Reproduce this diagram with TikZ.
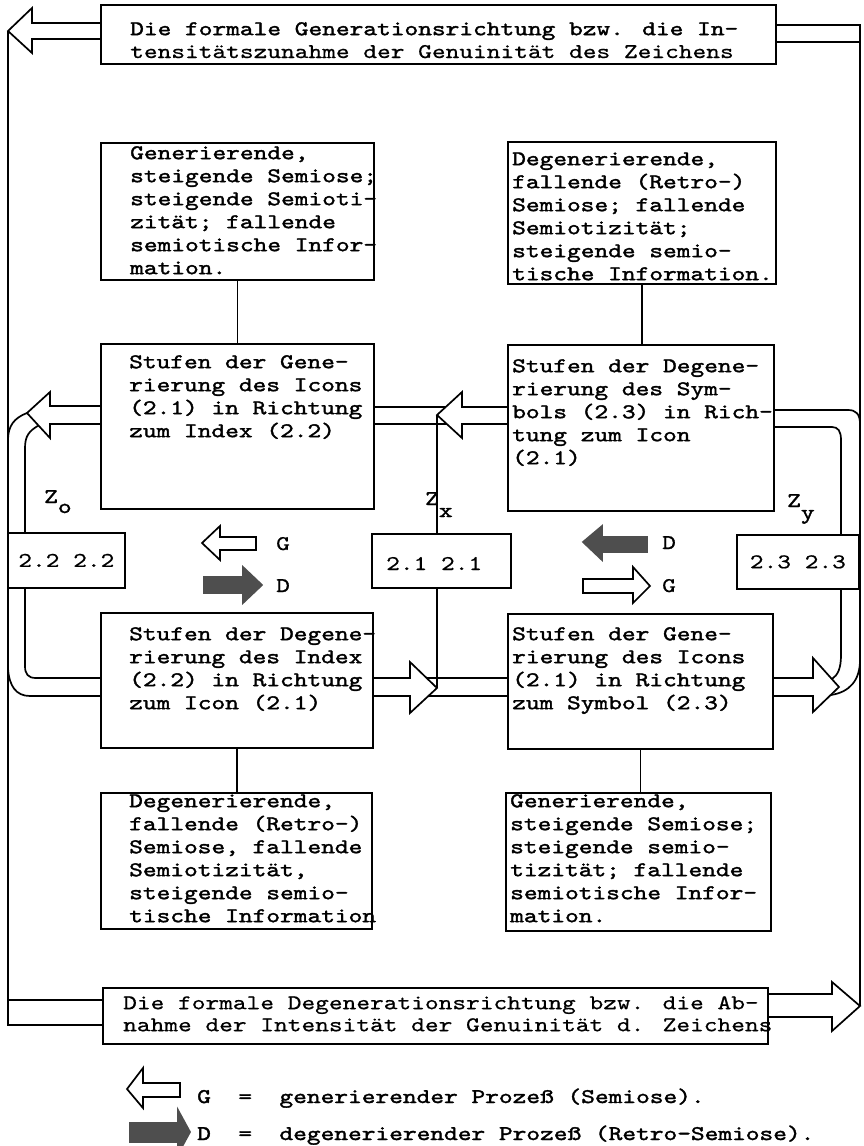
\documentclass[tikz,border=0pt]{standalone}
\usepackage{fontspec}
\newfontfamily\tw{lmmono10-regular.otf}[FakeStretch=1.25,FakeBold=1.7]
\newfontfamily\twl{lmmono10-regular.otf}[FakeStretch=1.25,FakeBold=0.6]
\newcommand\fl{\rule{0pt}{18pt}}
\definecolor{dk}{HTML}{4E4E4E}
\tikzset{
  bx/.style={draw, line width=1.7pt, inner sep=0pt, anchor=north west},
  ln/.style={line width=1.7pt, line join=miter},
  tl/.style={font=\tw\fontsize{20.9}{23}\selectfont, align=left, inner sep=0pt, anchor=north west},
  tll/.style={tl, font=\twl\fontsize{20.9}{22}\selectfont},
  lb/.style={font=\tw\fontsize{20.9}{23}\selectfont, inner sep=0pt, anchor=base west},
  lbl/.style={lb, font=\twl\fontsize{20.9}{23}\selectfont},
  sm/.style={bx, font=\twl\fontsize{20.9}{23}\selectfont},
}
\begin{document}
\begin{tikzpicture}[x=1pt,y=-1pt]
\useasboundingbox (0,0) rectangle (864,1146);

% top and bottom boxes
\node[bx, minimum width=675, minimum height=59] (T) at (100,4) {};
\node[tl] (Tt) at (130,17) {\fl Die formale Generationsrichtung bzw. die In-};
\node[lbl] (Tt2) at (130,58) {tensitätszunahme der Genuinität des Zeichens};
\node[bx, minimum width=665, minimum height=56] (Bt) at (102,987) {};
\node[tll] (Btt) at (123,991) {\fl Die formale Degenerationsrichtung bzw. die Ab-\\nahme der Intensität der Genuinität d. Zeichens};

% text boxes
\node[bx, minimum width=273, minimum height=137] (A) at (100,142) {};
\node[tl] (At) at (130,141) {\fl Generierende,\\steigende Semiose;\\steigende Semioti-\\zität; fallende\\semiotische Infor-\\mation.};
\node[bx, minimum width=268, minimum height=142] (B) at (507,141) {};
\node[tl] (Btx) at (512,147) {\fl Degenerierende,\\fallende (Retro-)\\Semiose; fallende\\Semiotizität;\\steigende semio-\\tische Information.};

\node[bx, minimum width=273, minimum height=165] (C) at (100,343) {};
\node[tl] (Ct) at (129,350) {\fl Stufen der Gene-\\rierung des Icons\\(2.1) in Richtung\\zum Index (2.2)};
\node[bx, minimum width=266, minimum height=166] (D) at (507,344) {};
\node[tl] (Dt) at (512,354) {\fl Stufen der Degene-\\rierung des Sym-\\bols (2.3) in Rich-\\tung zum Icon\\(2.1)};

\node[bx, minimum width=272, minimum height=135] (E) at (100,612) {};
\node[tl] (Et) at (129,622) {\fl Stufen der Degene-\\rierung des Index\\(2.2) in Richtung\\zum Icon (2.1)};
\node[bx, minimum width=265, minimum height=135] (F) at (507,613) {};
\node[tl] (Ft) at (512,622) {\fl Stufen der Gene-\\rierung des Icons\\(2.1) in Richtung\\zum Symbol (2.3)};

\node[bx, minimum width=271, minimum height=136] (G) at (100,792) {};
\node[tl] (Gt) at (129,789) {\fl Degenerierende,\\fallende (Retro-)\\Semiose, fallende\\Semiotizität,\\steigende semio-\\tische Information};
\node[bx, minimum width=265, minimum height=138] (H) at (505,792) {};
\node[tl] (Ht) at (510,789) {\fl Generierende,\\steigende Semiose;\\steigende semio-\\tizität; fallende\\semiotische Infor-\\mation.};

% small boxes
\node[sm, minimum width=117, minimum height=55] (S1) at (7,532) {2.2 2.2};
\node[bx, minimum width=139, minimum height=54] (S2) at (371,533) {};
\node[lbl] (S2t) at (386,570) {2.1 2.1};
\node[sm, minimum width=122, minimum height=54] (S3) at (736,534) {2.3 2.3};

% vertical connectors between boxes
\draw[ln] (A.south) -- (C.north);
\draw[ln] (B.south) -- (B.south |- D.north);
\draw[ln] (E.south) -- (E.south |- G.north);
\draw[ln] (F.south) -- (F.south |- H.north);

% outer frame: top arrow to the left, bottom arrow to the right
\draw[ln] (T.west |- 0,23) -- (32,23) -- (32,8) -- (8,31) -- (32,53) -- (32,39) -- (T.west |- 0,39);
\draw[ln] (8,31) -- (8,1025) -- (Bt.west |- 0,1025);
\draw[ln] (8,1000) -- (Bt.west |- 0,1000);
\draw[ln] (T.east |- 0,25) -- (860,25) -- (860,1006);
\draw[ln] (T.east |- 0,42) -- (860,42);
\draw[ln] (Bt.east |- 0,994) -- (832,994) -- (832,982) -- (860,1006) -- (832,1031) -- (832,1017) -- (Bt.east |- 0,1017);

% upper band D -> C
\draw[ln] (D.west |- 0,407) -- (462,407) -- (462,392) -- (437,415) -- (462,438) -- (462,424) -- (D.west |- 0,424);
\draw[ln] (C.east |- 0,407) -- (446,407);
\draw[ln] (C.east |- 0,424) -- (447,424);
% C -> left, then down
\draw[ln] (C.west |- 0,406) -- (50,406) -- (50,392) -- (27,413) -- (50,438) -- (50,424) -- (C.west |- 0,424);
\draw[ln] (27,413) .. controls (14,418) and (8,426) .. (8,440);
\draw[ln] (38.5,425.5) .. controls (29,431) and (25,436) .. (25,448) -- (S1.north -| 25,0);
\draw[ln] (S1.south -| 25,0) -- (25,666) .. controls (25,674) and (28,678) .. (36,678) -- (E.west |- 0,678);
\draw[ln] (8,668) .. controls (9,686) and (16,696) .. (30,696) -- (E.west |- 0,696);
% E -> F
\draw[ln] (E.east |- 0,678) -- (410,678) -- (410,662) -- (437,688) -- (410,713) -- (410,696) -- (E.east |- 0,696);
\draw[ln] (427,678) -- (F.west |- 0,678);
\draw[ln] (428,696) -- (F.west |- 0,696);
% Zx line
\draw[ln] (437,415) -- (S2.north -| 437,0);
\draw[ln] (S2.south -| 437,0) -- (437,688);
% F -> right, then up
\draw[ln] (F.east |- 0,678) -- (813,678) -- (813,658) -- (839,687) -- (813,712) -- (813,696) -- (F.east |- 0,696);
\draw[ln] (S3.south -| 841,0) -- (841,655) .. controls (841,668) and (838,675) .. (832,679);
\draw[ln] (860,660) .. controls (860,680) and (850,692) .. (831,695);
% up the right side into D
\draw[ln] (D.east |- 0,410) -- (848,410) .. controls (856,410) and (860,414) .. (860,424);
\draw[ln] (D.east |- 0,427) -- (832,427) .. controls (838,427) and (841,431) .. (841,440) -- (S3.north -| 841,0);

% Z labels
\node[lb] (Zo) at (44,503) {Z\raisebox{-10pt}{o}};
\node[lb] (Zx) at (425,505) {Z\raisebox{-12pt}{x}};
\node[lb] (Zy) at (787,507) {Z\raisebox{-12pt}{y}};

% middle indicators
\draw[ln] (256,537) -- (220,537) -- (220,526) -- (202,543) -- (220,560) -- (220,550) -- (256,550) -- cycle;
\node[lbl] (g1) at (276,550) {G};
\filldraw[ln, fill=dk, draw=dk] (204,577) -- (243,577) -- (243,567) -- (262,585) -- (243,603) -- (243,593) -- (204,593) -- cycle;
\node[lbl] (d1) at (276,592) {D};
\filldraw[ln, fill=dk, draw=dk] (647,537) -- (602,537) -- (602,526) -- (583,542) -- (602,560) -- (602,552) -- (647,552) -- cycle;
\node[lbl] (d2) at (662,549) {D};
\draw[ln] (583,579) -- (633,579) -- (633,567) -- (650,586) -- (633,603) -- (633,593) -- (583,593) -- cycle;
\node[lbl] (g2) at (662,592) {G};

% legend
\draw[ln] (180,1083) -- (143,1083) -- (143,1068) -- (127,1089) -- (143,1108) -- (143,1097) -- (180,1097) -- cycle;
\node[lb] (lg) at (197,1103) {G~~=~~generierender Prozeß (Semiose).};
\filldraw[ln, fill=dk, draw=dk] (130,1123) -- (178,1123) -- (178,1110) -- (190,1132) -- (178,1154) -- (178,1142) -- (130,1142) -- cycle;
\node[lb] (ld) at (197,1140) {D~~=~~degenerierender Prozeß (Retro-Semiose).};
\end{tikzpicture}
\end{document}
